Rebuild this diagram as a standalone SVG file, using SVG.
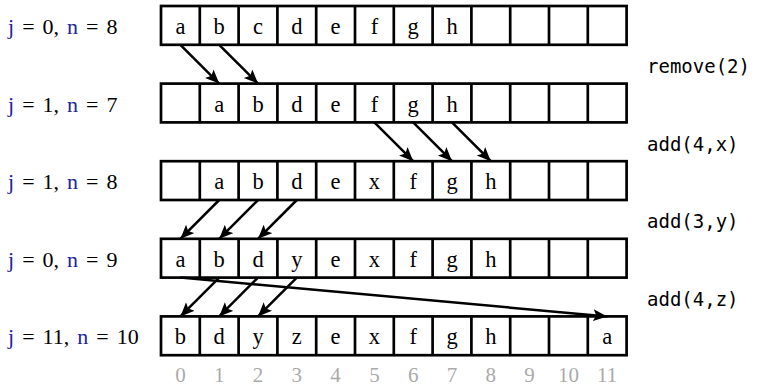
<svg xmlns="http://www.w3.org/2000/svg" width="761" height="388" viewBox="0 0 761 388">
<style>
.cell{fill:none;stroke:#000;stroke-width:2.7}
.t{font-family:"Liberation Serif","DejaVu Serif",serif;font-size:22.5px;fill:#000;text-anchor:middle}
.lbl{font-family:"Liberation Serif","DejaVu Serif",serif;font-size:22px;fill:#000;word-spacing:2.5px}
.v{fill:#24249a}
.op{font-family:"DejaVu Sans Mono",monospace;font-size:19px;fill:#000}
.idx{font-family:"Liberation Serif","DejaVu Serif",serif;font-size:21px;fill:#aaa;text-anchor:middle}
.arr{stroke:#000;stroke-width:2.5;fill:none;marker-end:url(#ah)}
</style>
<defs>
<marker id="ah" markerUnits="userSpaceOnUse" markerWidth="16" markerHeight="14" refX="14" refY="6" orient="auto">
<path d="M0,0 L14,6 L0,12 L3,6 z" fill="#000"/>
</marker>
<g id="row">
<rect class="cell" x="161" y="0" width="465.6" height="38.8"/>
<path class="cell" d="M199.8,0V38.8M238.6,0V38.8M277.4,0V38.8M316.2,0V38.8M355,0V38.8M393.8,0V38.8M432.6,0V38.8M471.4,0V38.8M510.2,0V38.8M549,0V38.8M587.8,0V38.8"/>
</g>
</defs>

<g id="row1">
<use href="#row" y="6"/>
<text class="lbl" x="8" y="34"><tspan class="v">j</tspan> = 0, <tspan class="v">n</tspan> = 8</text>
<text class="t" y="34"><tspan x="180.4">a</tspan><tspan x="219.2">b</tspan><tspan x="258">c</tspan><tspan x="296.8">d</tspan><tspan x="335.6">e</tspan><tspan x="374.4">f</tspan><tspan x="413.2">g</tspan><tspan x="452">h</tspan></text>
</g>

<g id="row2">
<use href="#row" y="83.6"/>
<text class="lbl" x="8" y="111.6"><tspan class="v">j</tspan> = 1, <tspan class="v">n</tspan> = 7</text>
<text class="t" y="111.6"><tspan x="219.2">a</tspan><tspan x="258">b</tspan><tspan x="296.8">d</tspan><tspan x="335.6">e</tspan><tspan x="374.4">f</tspan><tspan x="413.2">g</tspan><tspan x="452">h</tspan></text>
</g>

<g id="row3">
<use href="#row" y="161.2"/>
<text class="lbl" x="8" y="189.2"><tspan class="v">j</tspan> = 1, <tspan class="v">n</tspan> = 8</text>
<text class="t" y="189.2"><tspan x="219.2">a</tspan><tspan x="258">b</tspan><tspan x="296.8">d</tspan><tspan x="335.6">e</tspan><tspan x="374.4">x</tspan><tspan x="413.2">f</tspan><tspan x="452">g</tspan><tspan x="490.8">h</tspan></text>
</g>

<g id="row4">
<use href="#row" y="238.8"/>
<text class="lbl" x="8" y="266.8"><tspan class="v">j</tspan> = 0, <tspan class="v">n</tspan> = 9</text>
<text class="t" y="266.8"><tspan x="180.4">a</tspan><tspan x="219.2">b</tspan><tspan x="258">d</tspan><tspan x="296.8">y</tspan><tspan x="335.6">e</tspan><tspan x="374.4">x</tspan><tspan x="413.2">f</tspan><tspan x="452">g</tspan><tspan x="490.8">h</tspan></text>
</g>

<g id="row5">
<use href="#row" y="316.4"/>
<text class="lbl" x="8" y="344.4"><tspan class="v">j</tspan> = 11, <tspan class="v">n</tspan> = 10</text>
<text class="t" y="344.4"><tspan x="180.4">b</tspan><tspan x="219.2">d</tspan><tspan x="258">y</tspan><tspan x="296.8">z</tspan><tspan x="335.6">e</tspan><tspan x="374.4">x</tspan><tspan x="413.2">f</tspan><tspan x="452">g</tspan><tspan x="490.8">h</tspan><tspan x="607.2">a</tspan></text>
</g>

<g id="ops">
<text class="op" x="647" y="73">remove(2)</text>
<text class="op" x="647" y="150.6">add(4,x)</text>
<text class="op" x="647" y="228.2">add(3,y)</text>
<text class="op" x="647" y="305.8">add(4,z)</text>
</g>

<g id="indices">
<text class="idx" y="382"><tspan x="180.4">0</tspan><tspan x="219.2">1</tspan><tspan x="258">2</tspan><tspan x="296.8">3</tspan><tspan x="335.6">4</tspan><tspan x="374.4">5</tspan><tspan x="413.2">6</tspan><tspan x="452">7</tspan><tspan x="490.8">8</tspan><tspan x="529.6">9</tspan><tspan x="568.4">10</tspan><tspan x="607.2">11</tspan></text>
</g>

<g id="connectors">
<line class="arr" x1="180.4" y1="44.8" x2="219.2" y2="83.6"/>
<line class="arr" x1="219.2" y1="44.8" x2="258" y2="83.6"/>
<line class="arr" x1="374.4" y1="122.4" x2="413.2" y2="161.2"/>
<line class="arr" x1="413.2" y1="122.4" x2="452" y2="161.2"/>
<line class="arr" x1="452" y1="122.4" x2="490.8" y2="161.2"/>
<line class="arr" x1="219.2" y1="200" x2="180.4" y2="238.8"/>
<line class="arr" x1="258" y1="200" x2="219.2" y2="238.8"/>
<line class="arr" x1="296.8" y1="200" x2="258" y2="238.8"/>
<line class="arr" x1="219.2" y1="277.6" x2="180.4" y2="316.4"/>
<line class="arr" x1="258" y1="277.6" x2="219.2" y2="316.4"/>
<line class="arr" x1="296.8" y1="277.6" x2="258" y2="316.4"/>
<line class="arr" x1="180.4" y1="277.6" x2="607.2" y2="316.4"/>
</g>
</svg>
